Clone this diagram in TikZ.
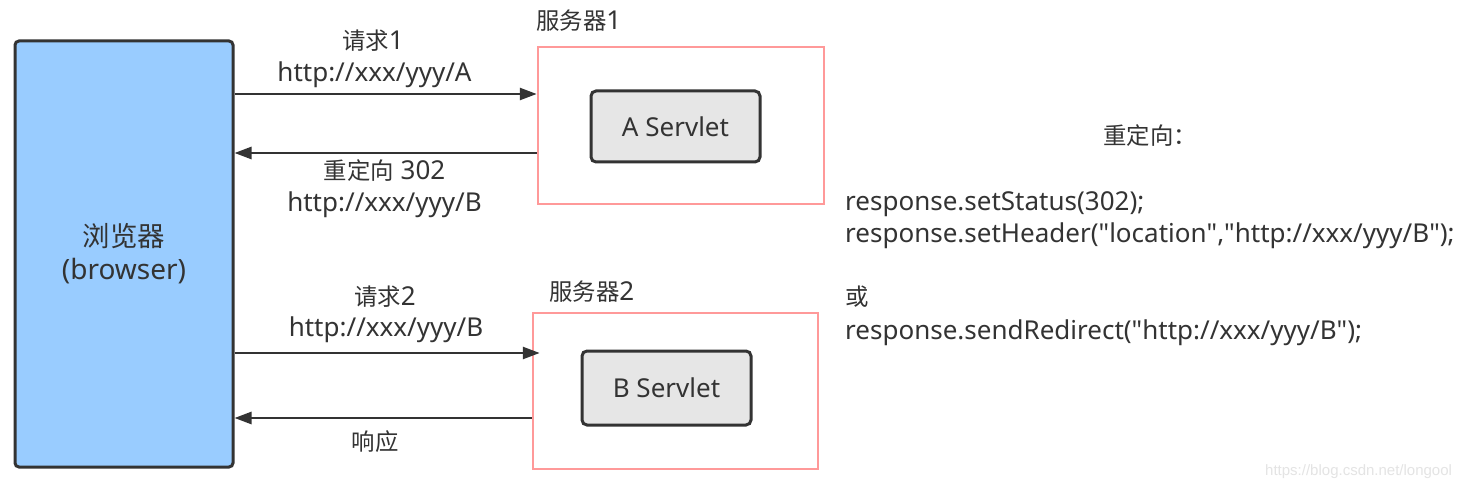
\documentclass[tikz,border=0pt]{standalone}
\usepackage{fontspec}
\setmainfont{Noto Sans}
\newfontfamily\cjk{Noto Sans CJK SC}[Scale=0.9]
\newfontfamily\wmfont{Liberation Sans}
\usetikzlibrary{arrows.meta}
\definecolor{dark}{HTML}{333333}
\definecolor{browserblue}{HTML}{99CCFF}
\definecolor{serverpink}{HTML}{FF9999}
\definecolor{servletgray}{HTML}{E6E6E6}
\definecolor{wmgray}{HTML}{E4E4E4}
\newcommand{\qq}{\textquotedbl}
\tikzset{
  every node/.style={font=\fontsize{26}{32}\selectfont, text=dark},
  browserbox/.style={draw=dark, fill=browserblue, line width=3pt, rounded corners=4pt, align=center, inner sep=0pt, font=\fontsize{28}{33}\selectfont},
  serverbox/.style={draw=serverpink, line width=2.5pt, inner sep=0pt},
  servletbox/.style={draw=dark, fill=servletgray, line width=3pt, rounded corners=5pt, inner sep=0pt},
  arr/.style={draw=dark, line width=2.6pt, -{Triangle[length=17pt,width=12pt]}},
  lbl/.style={anchor=base, inner sep=0pt},
  code/.style={anchor=base west, inner sep=0pt},
  wm/.style={anchor=base west, inner sep=0pt, font=\wmfont\fontsize{15}{18}\selectfont, text=wmgray}
}
\begin{document}
\begin{tikzpicture}[x=1pt,y=-1pt]
\fill[white] (0,0) rectangle (1470,486);
\useasboundingbox (0,0) rectangle (1470,486);

% boxes
\node[browserbox, minimum width=218pt, minimum height=426pt] (br) at (124,254) {{\cjk\fontsize{30.5}{33}\selectfont 浏览器}\\(browser)};
\node[serverbox, minimum width=286pt, minimum height=157pt] (s1) at (681,125.5) {};
\node[servletbox, minimum width=169pt, minimum height=71pt] (as) at (675.5,126.5) {A Servlet};
\node[serverbox, minimum width=285pt, minimum height=156pt] (s2) at (675.5,391) {};
\node[servletbox, minimum width=169pt, minimum height=74pt] (bs) at (666.5,388) {B Servlet};

% server titles
\node[code] (t1) at (536,30) {{\cjk 服务器}1};
\node[code] (t2) at (549,301) {{\cjk 服务器}2};

% arrows
\draw[arr] (br.east |- 0,94) -- (s1.west |- 0,94);
\draw[arr] (s1.west |- 0,153) -- (br.east |- 0,153);
\draw[arr, shorten >=-8pt] (br.east |- 0,353) -- (s2.west |- 0,353);
\draw[arr] (s2.west |- 0,418) -- (br.east |- 0,418);

% arrow labels
\node[lbl] (l1a) at (373,50) {{\cjk 请求}1};
\node[lbl] (l1b) at (374.5,82) {http://xxx/yyy/A};
\node[lbl] (l2a) at (384.5,180) {{\cjk 重定向} 302};
\node[lbl] (l2b) at (384.5,212) {http://xxx/yyy/B};
\node[lbl] (l3a) at (385,306) {{\cjk 请求}2};
\node[lbl] (l3b) at (386,337) {http://xxx/yyy/B};
\node[lbl] (l4) at (375,450) {{\cjk 响应}};

% code text
\node[code] (c0) at (1103,145) {{\cjk 重定向：}};
\node[code] (c1) at (845,211) {response.setStatus(302);};
\node[code] (c2) at (845,243) {response.setHeader(\qq location\qq,\qq http://xxx/yyy/B\qq);};
\node[code] (c3) at (845,306) {{\cjk 或}};
\node[code] (c4) at (845,340) {response.sendRedirect(\qq http://xxx/yyy/B\qq);};

% watermark
\node[wm] (w) at (1265,475) {https://blog.csdn.net/longool};
\end{tikzpicture}
\end{document}
